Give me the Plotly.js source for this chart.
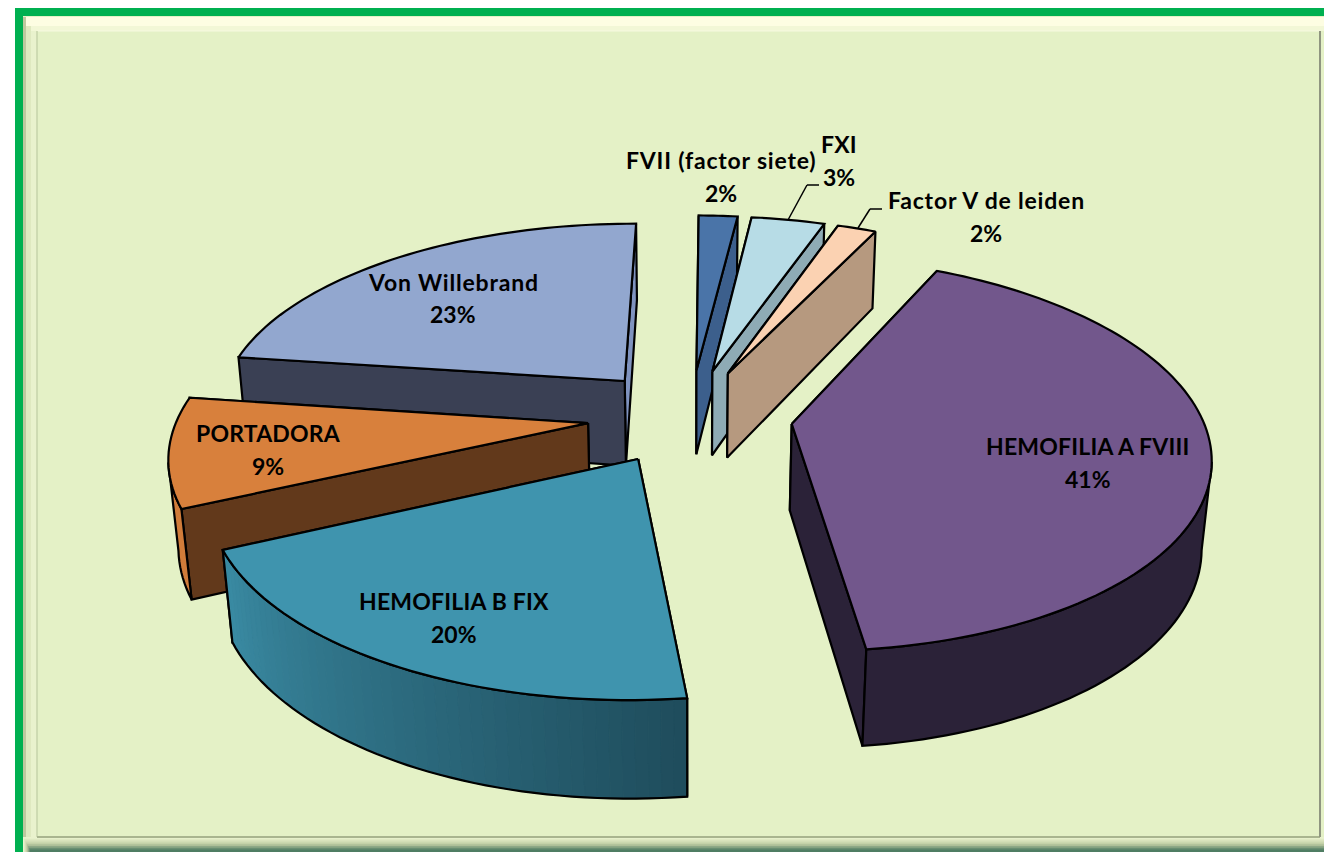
<!DOCTYPE html>
<html><head><meta charset="utf-8">
<script src="https://cdn.plot.ly/plotly-3.0.1.min.js"></script>
<style>html,body{margin:0;padding:0;background:#fff}#c{width:1324px;height:852px}</style></head>
<body><div id="c"></div>
<script>
// DATA
const labels = ["HEMOFILIA A FVIII","HEMOFILIA B FIX","PORTADORA","Von Willebrand","FVII (factor siete)","FXI","Factor V de leiden"];
const values = [41,20,9,23,1.8,3.4,1.8];

// STYLE
const topColors   = ["#72578c","#3f94ae","#d8803c","#92a7cf","#4a74a8","#b7dce6","#fbd2b2"];
const startWall   = ["#2f2440","#2b6376","#62391b","#3a4054","#3c5f8c","#8eabb5","#b6997f"];
const endWall     = ["#2b2238","#2b6376","#62391b","#7f93bf","#3c5f8c","#8eabb5","#b6997f"];
const outerFrom   = ["#2b2238","#3a8ba3","#d07c3a","#3a4054","#3c5f8c","#8eabb5","#b6997f"];
const outerTo     = ["#2b2238","#1f4d5d","#d07c3a","#3a4054","#3c5f8c","#8eabb5","#b6997f"];
const paintOrder  = [4,5,6,3,2,1,0];
const labelPos    = [[1088,446,479],[454,601,634],[268,433,466],[453,282,314],[721,160,193],[839,144,177],[986,200,233]];
const labelSpace  = [0.2,0.2,0.2,0.8,0.8,0.2,0.8];

// PROJECTION OF THE TILTED PIE
const rot0 = 25.7, cx = 690, cy = 416, R = 1, H = 0.242, pull = 0.25;
const elev = 27.7*Math.PI/180, D = 5.9, F = 2419;
const ce = Math.cos(elev), se = Math.sin(elev);
function proj(X,Y,Z){ const w = D - Y*ce - Z*se, v = -Y*se + Z*ce; return [cx + F*X/w, cy - F*v/w]; }
function hex(c){ return [1,3,5].map(i=>parseInt(c.substr(i,2),16)); }
function mix(a,b,t){ const A=hex(a),B=hex(b); return "rgb("+A.map((v,i)=>Math.round(v+(B[i]-v)*t)).join(",")+")"; }

const total = values.reduce((a,b)=>a+b,0);
let cum = 0;
const slices = values.map(v=>{ const a0 = rot0 + cum/total*360; cum += v; return {a0, a1: rot0 + cum/total*360}; });
const traces = [];
function poly(pts, fill, lw, lc){
  traces.push({type:"scatter",mode:"lines",x:pts.map(p=>p[0]).concat(pts[0][0]),y:pts.map(p=>p[1]).concat(pts[0][1]),
    fill:"toself",fillcolor:fill,line:{color:lc||"#000",width:lw,simplify:false},hoverinfo:"skip",showlegend:false});
}
paintOrder.forEach(i=>{
  const s = slices[i], mid = (s.a0+s.a1)/2*Math.PI/180;
  const ox = pull*Math.sin(mid), oy = -pull*Math.cos(mid);
  const rim = (deg,Z)=>{ const t=deg*Math.PI/180; return proj(ox+R*Math.sin(t), oy-R*Math.cos(t), Z); };
  const apex = Z=>proj(ox,oy,Z);
  const n = Math.max(8, Math.round((s.a1-s.a0)/1.5));
  const angs = []; for(let k=0;k<=n;k++) angs.push(s.a0+(s.a1-s.a0)*k/n);
  // the cut wall nearer the back is painted first
  [[s.a0,startWall[i]],[s.a1,endWall[i]]]
    .sort((p,q)=>Math.cos(q[0]*Math.PI/180)-Math.cos(p[0]*Math.PI/180))
    .forEach(([a,c])=>poly([apex(0),rim(a,0),rim(a,-H),apex(-H)], c, 2.2));
  // the rim wall runs between the right and left silhouette points of the circle as seen from the camera
  let aR = 0, aL = 0, xR = -1e9, xL = 1e9;
  for(let a=0;a<360;a+=0.5){ const x = rim(a,0)[0]; if(x>xR){xR=x;aR=a;} if(x<xL){xL=x;aL=a;} }
  const front = [];
  angs.forEach(a=>{ const m=((a%360)+360)%360; if(m>=aR && m<=aL) front.push(a); });
  if(front.length>1){
    if(outerFrom[i]!==outerTo[i]){
      const m = front.length-1;
      for(let k=0;k<m;k++){
        const c = mix(outerFrom[i],outerTo[i],k/(m-1)), a=front[m-k], b=front[m-k-1];
        poly([rim(a,0),rim(b,0),rim(b,-H),rim(a,-H)], c, 1, c);
      }
      poly([...front.map(a=>rim(a,0)),...front.slice().reverse().map(a=>rim(a,-H))],"rgba(0,0,0,0)",2.2);
    } else {
      poly([...front.map(a=>rim(a,0)),...front.slice().reverse().map(a=>rim(a,-H))], outerFrom[i], 2.2);
    }
  }
  poly([apex(0),...angs.map(a=>rim(a,0))], topColors[i], 2.2);
});

// FRAME
const shapes = [];
function rect(x0,y0,x1,y1,c){ shapes.push({type:"rect",xref:"x",yref:"y",x0,y0,x1,y1,fillcolor:c,line:{width:0},layer:"below"}); }
function seg(x0,y0,x1,y1,c,w){ shapes.push({type:"line",xref:"x",yref:"y",x0,y0,x1,y1,line:{color:c,width:w}}); }
rect(15,8,1324,852,"#00b050");
rect(23,16,1324,852,"#e4f1c6");
rect(23,17,1324,26,"#fdfde2");
rect(23,26,1324,31,"#f2f7d6");
rect(23,17,26,852,"#bfc89f");
rect(26,26,31,852,"#dfe9c0");
rect(31,31,37,852,"#e9f2cd");
["#e9f2cd","#dfe9c2","#d3deb6","#c4d1a8","#aebf98","#8ea886","#6a8f72","#4f7d63"].forEach((c,k)=>rect(23+k,837+k*1.8,1324,852,c));
rect(37,31,1320,837,"#e4f1c6");
seg(37,31,1320,31,"#f6f9e0",1);
seg(37,31,37,837,"#c6d3aa",1.5);
seg(37,837,1320,837,"#a9b58f",2);
seg(1320,31,1320,837,"#8f9580",2);
seg(788,220,807,185,"#000",1.5); seg(807,185,819,185,"#000",1.5);
seg(858,228,870,209,"#000",1.5); seg(870,209,882,209,"#000",1.5);

// LABELS
const annotations = [];
labels.forEach((t,i)=>{
  const pct = Math.round(values[i]/total*100)+"%";
  const fnt = {family:"Lato, 'Open Sans', sans-serif",size:23,color:"#000"};
  annotations.push({x:labelPos[i][0],y:labelPos[i][1],xref:"x",yref:"y",text:'<span style="letter-spacing:'+labelSpace[i]+'px"><b>'+t+"</b></span>",showarrow:false,font:fnt,xanchor:"center",yanchor:"middle"});
  annotations.push({x:labelPos[i][0],y:labelPos[i][2],xref:"x",yref:"y",text:"<b>"+pct+"</b>",showarrow:false,font:fnt,xanchor:"center",yanchor:"middle"});
});

Plotly.newPlot("c",traces,{
  width:1324,height:852,margin:{l:0,r:0,t:0,b:0},paper_bgcolor:"#fff",plot_bgcolor:"rgba(0,0,0,0)",showlegend:false,
  xaxis:{range:[0,1324],visible:false,fixedrange:true},
  yaxis:{range:[852,0],visible:false,fixedrange:true},
  shapes,annotations
},{displayModeBar:false,staticPlot:true});
</script></body></html>
